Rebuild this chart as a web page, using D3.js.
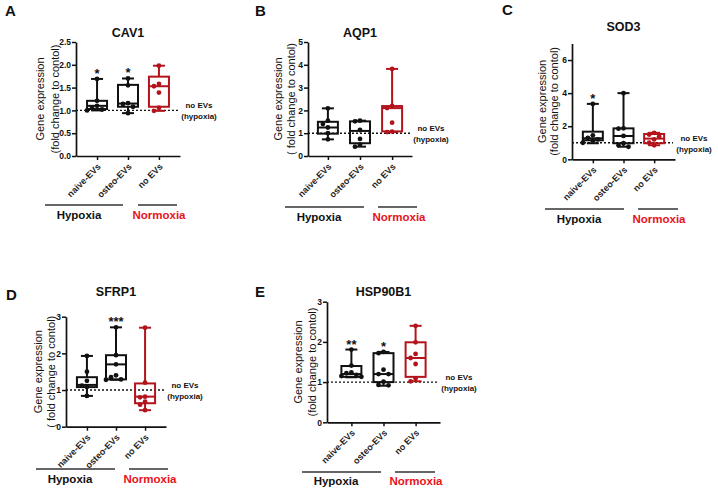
<!DOCTYPE html>
<html><head><meta charset="utf-8">
<script src="https://cdn.jsdelivr.net/npm/d3@7"></script>
<style>body{margin:0;background:#fff} svg{display:block} text{font-family:"Liberation Sans",Arial,sans-serif}</style>
</head><body><svg id="c" width="718" height="493"></svg>
<script>
// ---------- DATA ----------
const categories = ["naive-EVs", "osteo-EVs", "no EVs"];
const groupLabels = ["Hypoxia", "Normoxia"];
const refLabels = ["no EVs", "(hypoxia)"];
const yTitle1 = "Gene expression";

// box stats per category: [min, q1, median, q3, max]
const cav1Stats = [[1.0, 1.03, 1.1, 1.21, 1.69], [0.94, 1.08, 1.15, 1.56, 1.7], [0.99, 1.08, 1.53, 1.74, 1.98]];
const cav1Points = [[1.69, 1.21, 1.1, 1.05, 1.02, 1.0], [1.7, 1.55, 1.16, 1.14, 1.08, 0.94], [1.98, 1.58, 1.53, 1.39, 1.06, 0.99]];
const cav1Sig = ["*", "*", ""];
const cav1Ticks = [0, 0.5, 1.0, 1.5, 2.0, 2.5];

const aqp1Stats = [[0.73, 0.98, 1.25, 1.5, 2.09], [0.41, 0.56, 1.1, 1.52, 1.55], [1.05, 1.08, 2.1, 2.19, 3.82]];
const aqp1Points = [[2.09, 1.55, 1.4, 1.25, 1.0, 0.73], [1.55, 1.52, 1.14, 0.75, 0.5, 0.41], [3.82, 2.2, 2.1, 1.46, 1.07, 1.05]];
const aqp1Sig = ["", "", ""];
const aqp1Ticks = [0, 1, 2, 3, 4, 5];

const sod3Stats = [[0.97, 1.15, 1.27, 1.67, 3.35], [0.76, 0.97, 1.41, 1.87, 4.0], [0.85, 0.97, 1.25, 1.53, 1.6]];
const sod3Points = [[3.35, 1.45, 1.3, 1.2, 1.1, 1.0], [4.0, 1.87, 1.85, 1.41, 0.97, 0.85, 0.76], [1.6, 1.5, 1.38, 1.2, 1.0, 0.85]];
const sod3Sig = ["*", "", ""];
const sod3Ticks = [0, 2, 4, 6];

const sfrp1Stats = [[0.84, 1.08, 1.14, 1.35, 1.93], [1.28, 1.29, 1.7, 1.95, 2.71], [0.45, 0.64, 0.82, 1.18, 2.7]];
const sfrp1Points = [[1.93, 1.5, 1.25, 1.12, 1.08, 0.84], [2.71, 1.95, 1.7, 1.4, 1.35, 1.29, 1.28], [2.7, 1.2, 0.82, 0.8, 0.68, 0.6, 0.45]];
const sfrp1Sig = ["", "***", ""];
const sfrp1Ticks = [0, 1, 2, 3];

const hspStats = [[1.12, 1.13, 1.2, 1.4, 1.81], [0.91, 1.0, 1.2, 1.72, 1.75], [1.02, 1.13, 1.6, 1.99, 2.4]];
const hspPoints = [[1.81, 1.41, 1.24, 1.22, 1.18, 1.15, 1.13], [1.75, 1.72, 1.31, 1.2, 1.2, 1.01, 0.93, 0.92], [2.4, 1.99, 1.7, 1.6, 1.45, 1.09, 1.02]];
const hspSig = ["**", "*", ""];
const hspTicks = [0, 1, 2, 3];

// ---------- LAYOUT ----------
const BLACK = "#111", RED = "#b3141c", RED_TEXT = "#e8121b";
const panels = [
  {letter:"A", lx:5, ly:16, gene:"CAV1", stats:cav1Stats, points:cav1Points, sig:cav1Sig, ticks:cav1Ticks, fmt:d3.format(".1f"), domain:[0,2.5],
   x0:76, x1:180, yTop:42, yBot:156, pad:0.68, titleY:37, yt:[40,55], yt2:"(fold change to contol)",
   hyp:[45,123], hypT:79, norm:[138,177], normT:159, gY:205, gT:219},
  {letter:"B", lx:255, ly:16, gene:"AQP1", stats:aqp1Stats, points:aqp1Points, sig:aqp1Sig, ticks:aqp1Ticks, fmt:d3.format("d"), domain:[0,5],
   x0:308, x1:412, yTop:42, yBot:156, pad:0.62, titleY:37, yt:[278,291], yt2:"( fold change to contol)",
   hyp:[285,364], hypT:319, norm:[378,417], normT:399, gY:207, gT:221},
  {letter:"C", lx:502, ly:15, gene:"SOD3", stats:sod3Stats, points:sod3Points, sig:sod3Sig, ticks:sod3Ticks, fmt:d3.format("d"), domain:[0,7],
   x0:572, x1:675, yTop:43.5, yBot:159.3, pad:0.68, titleY:31, yt:[542,554], yt2:"(fold change to contol)",
   hyp:[545,624], hypT:579, norm:[638,678], normT:659, gY:209, gT:223},
  {letter:"D", lx:6, ly:300, gene:"SFRP1", stats:sfrp1Stats, points:sfrp1Points, sig:sfrp1Sig, ticks:sfrp1Ticks, fmt:d3.format("d"), domain:[0,3],
   x0:66, x1:166, yTop:316.7, yBot:426.7, pad:0.72, titleY:296, yt:[38,51], yt2:"( fold change to contol)",
   hyp:[36,115], hypT:70, norm:[129,168], normT:150, gY:469, gT:483},
  {letter:"E", lx:255, ly:297, gene:"HSP90B1", stats:hspStats, points:hspPoints, sig:hspSig, ticks:hspTicks, fmt:d3.format("d"), domain:[0,3],
   x0:327, x1:440, yTop:301.7, yBot:422.3, pad:0.76, titleY:296, yt:[298,312], yt2:"(fold change to contol)",
   hyp:[302,381], hypT:336, norm:[395,435], normT:416, gY:472, gT:485}
];

const svg = d3.select("#c");

function swarm(vals, y, r) {
  const placed = [];
  const cand = [0, -5, 5, -10, 10, -14, 14];
  return vals.map(v => {
    const py = y(v);
    let off = 0;
    for (const c of cand) {
      if (placed.every(p => Math.hypot(p[0] - c, p[1] - py) >= 2 * r + 0.2)) { off = c; break; }
    }
    placed.push([off, py]);
    return [off, py];
  });
}

function drawPanel(p) {
  const g = svg.append("g");
  const x = d3.scalePoint().domain(categories).range([p.x0, p.x1]).padding(p.pad);
  const y = d3.scaleLinear().domain(p.domain).range([p.yBot, p.yTop]);

  // panel letter & title
  g.append("text").attr("x", p.lx).attr("y", p.ly).attr("font-size", 15).attr("font-weight", "bold").attr("fill", BLACK).text(p.letter);
  g.append("text").attr("x", (p.x0 + p.x1) / 2).attr("y", p.titleY).attr("text-anchor", "middle")
    .attr("font-size", 12.5).attr("font-weight", "bold").attr("fill", BLACK).text(p.gene);

  // y axis title
  const cy = (p.yTop + p.yBot) / 2;
  [yTitle1, p.yt2].forEach((t, i) => {
    g.append("text").attr("transform", `translate(${p.yt[i]},${cy}) rotate(-90)`).attr("dy", "0.35em")
      .attr("text-anchor", "middle").attr("font-size", 11).attr("fill", BLACK).text(t);
  });

  // reference dotted line at 1
  g.append("line").attr("x1", p.x0).attr("x2", p.x1 - 2).attr("y1", y(1)).attr("y2", y(1))
    .attr("stroke", BLACK).attr("stroke-width", 1.4).attr("stroke-dasharray", "2,2");
  refLabels.forEach((t, i) => {
    g.append("text").attr("x", p.x1 + 19).attr("y", y(1) + (i === 0 ? -2 : 9)).attr("text-anchor", "middle")
      .attr("font-size", 8).attr("font-weight", "bold").attr("fill", BLACK).text(t);
  });

  // axes
  const ya = g.append("g").attr("transform", `translate(${p.x0},0)`)
    .call(d3.axisLeft(y).tickValues(p.ticks).tickFormat(p.fmt).tickSize(4).tickSizeOuter(0));
  ya.select(".domain").attr("stroke", BLACK).attr("stroke-width", 1.7);
  ya.selectAll(".tick line").attr("stroke", BLACK).attr("stroke-width", 1.5);
  ya.selectAll(".tick text").attr("font-size", 8.5).attr("font-weight", "bold").attr("fill", BLACK)
    .attr("x", -5).style("font-family", "'Liberation Sans',Arial,sans-serif");

  const xa = g.append("g").attr("transform", `translate(0,${p.yBot})`)
    .call(d3.axisBottom(x).tickSize(4).tickSizeOuter(0).tickFormat(""));
  xa.select(".domain").attr("stroke", BLACK).attr("stroke-width", 1.7);
  xa.selectAll(".tick line").attr("stroke", BLACK).attr("stroke-width", 1.5);

  g.selectAll(".cat").data(categories).join("text")
    .attr("transform", d => `translate(${x(d) + 2},${p.yBot + 9}) rotate(-45)`)
    .attr("text-anchor", "end").attr("dy", "0.35em").attr("font-size", 9).attr("font-weight", "bold")
    .attr("fill", "#222").text(d => d);

  // boxes
  const bw = 20, cw = 12, r = 2.4;
  categories.forEach((c, i) => {
    const s = p.stats[i], col = i === 2 ? RED : BLACK, cx = x(c);
    const bg = g.append("g").attr("stroke", col).attr("stroke-width", 2).attr("fill", "none");
    bg.append("line").attr("x1", cx).attr("x2", cx).attr("y1", y(s[3])).attr("y2", y(s[4]));
    bg.append("line").attr("x1", cx).attr("x2", cx).attr("y1", y(s[1])).attr("y2", y(s[0]));
    [s[0], s[4]].forEach(v => bg.append("line").attr("x1", cx - cw / 2).attr("x2", cx + cw / 2).attr("y1", y(v)).attr("y2", y(v)));
    bg.append("rect").attr("x", cx - bw / 2).attr("width", bw).attr("y", y(s[3])).attr("height", y(s[1]) - y(s[3]));
    bg.append("line").attr("x1", cx - bw / 2).attr("x2", cx + bw / 2).attr("y1", y(s[2])).attr("y2", y(s[2]));
    const pos = swarm(p.points[i], y, r);
    g.selectAll(null).data(pos).join("circle").attr("cx", d => cx + d[0]).attr("cy", d => d[1]).attr("r", r).attr("fill", col);
    if (p.sig[i]) {
      g.append("text").attr("x", cx).attr("y", y(s[4]) - 1).attr("text-anchor", "middle")
        .attr("font-size", 13).attr("font-weight", "bold").attr("fill", BLACK).text(p.sig[i]);
    }
  });

  // group labels
  g.append("line").attr("x1", p.hyp[0]).attr("x2", p.hyp[1]).attr("y1", p.gY).attr("y2", p.gY).attr("stroke", "#333").attr("stroke-width", 1.4);
  g.append("line").attr("x1", p.norm[0]).attr("x2", p.norm[1]).attr("y1", p.gY).attr("y2", p.gY).attr("stroke", "#333").attr("stroke-width", 1.4);
  g.append("text").attr("x", p.hypT).attr("y", p.gT).attr("text-anchor", "middle").attr("font-size", 11.5).attr("font-weight", "bold").attr("fill", BLACK).text(groupLabels[0]);
  g.append("text").attr("x", p.normT).attr("y", p.gT).attr("text-anchor", "middle").attr("font-size", 11.5).attr("font-weight", "bold").attr("fill", RED_TEXT).text(groupLabels[1]);
}

panels.forEach(drawPanel);
</script></body></html>
